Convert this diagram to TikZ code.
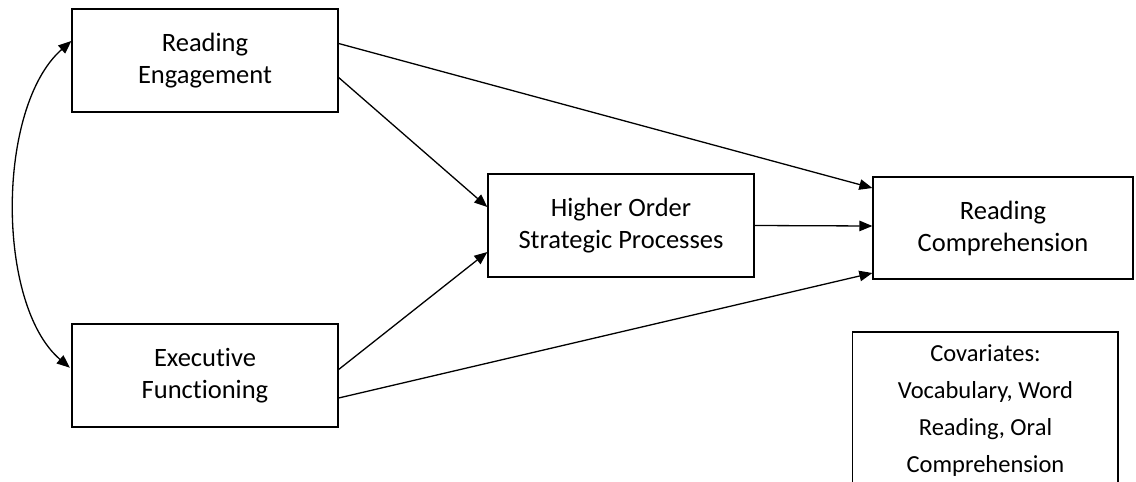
\documentclass[tikz,border=0pt]{standalone}
\usepackage{fontspec}
\setmainfont{Carlito}[Ligatures=NoCommon]
\usetikzlibrary{arrows.meta}
\tikzset{
  box/.style={draw=black, line width=1.3pt, minimum width=266pt, minimum height=103pt,
    align=center, inner sep=0pt, font=\fontsize{26.5}{32}\selectfont},
  conn/.style={line width=1.3pt, -{Triangle[length=13pt,width=10.5pt]}},
  frame/.style={line width=1.3pt}
}
\begin{document}
\begin{tikzpicture}[x=1pt,y=-1pt]
\useasboundingbox[fill=white] (0,0) rectangle (1136,482);
\node[box] (re) at (205,60.5) {Reading\\Engagement};
\node[box] (ef) at (205,375.5) {Executive\\Functioning};
\node[box] (hosp) at (621,225.5) {Higher Order\\Strategic Processes};
\node[box, minimum width=260pt, minimum height=102pt] (rc) at (1003,228) {Reading\\Comprehension};
\node[align=center, inner sep=0pt, font=\fontsize{24.5}{36.7}\selectfont] (cov) at (985.5,410.5)
  {Covariates:\\Vocabulary, Word\\Reading, Oral\\Comprehension};
\draw[frame] (852.5,483) -- (852.5,332) -- (1118,332) -- (1118,483);
\draw[conn] ([yshift=17pt]re.east) -- ([yshift=40pt]rc.west);
\draw[conn] ([yshift=-17pt]re.east) -- ([yshift=18.5pt]hosp.west);
\draw[conn] (hosp.east) -- ([yshift=2pt]rc.west);
\draw[conn] ([yshift=6pt]ef.east) -- ([yshift=-26.5pt]hosp.west);
\draw[conn] ([yshift=-22.5pt]ef.east) -- ([yshift=-45pt]rc.west);
\draw[line width=1.3pt, {Triangle[length=13pt,width=10.5pt]}-{Triangle[length=13pt,width=10.5pt]}, shorten >=2pt]
  ([yshift=19.5pt]re.west) .. controls (-4,107) and (-4,305) .. ([yshift=6.5pt]ef.west);
\end{tikzpicture}
\end{document}
